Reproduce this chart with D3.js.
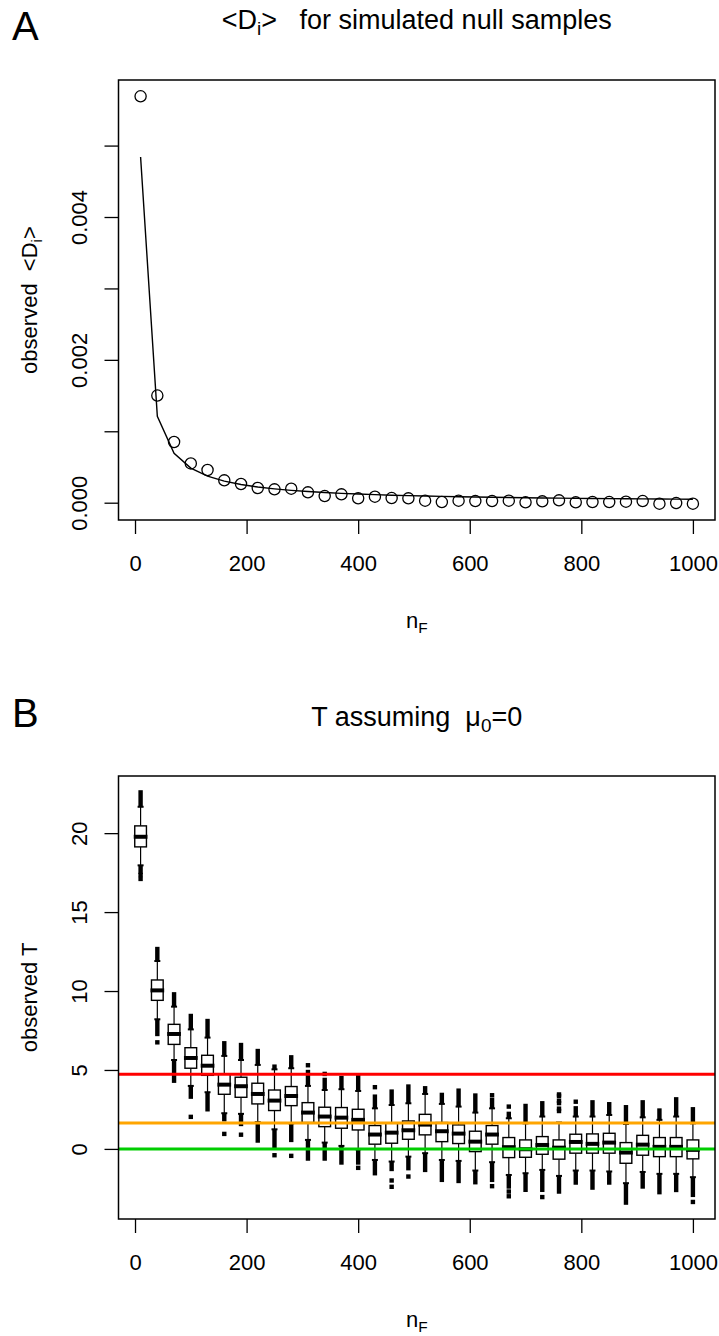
<!DOCTYPE html>
<html>
<head>
<meta charset="utf-8">
<script src="https://cdn.jsdelivr.net/npm/d3@7/dist/d3.min.js"></script>
<style>
body { margin: 0; background: #fff; }
svg { display: block; font-family: "Liberation Sans", Arial, Helvetica, sans-serif; }
</style>
</head>
<body>
<script>
const width = 719, height = 1336;

// n_F values shared by both panels
const nF = [10, 40, 70, 100, 130, 160, 190, 220, 250, 280, 310, 340, 370, 400, 430, 460, 490,
            520, 550, 580, 610, 640, 670, 700, 730, 760, 790, 820, 850, 880, 910, 940, 970, 1000];

// panel A: observed mean D_i (circles) and expected curve (line)
const observedD = [0.00569, 0.00150, 0.00085, 0.00055, 0.000458, 0.000313, 0.000262, 0.000206, 0.000187,
                   0.000196, 0.000145, 0.000093, 0.000117, 0.000061, 0.000084, 0.000065, 0.000061,
                   0.000028, 0.000009, 0.000028, 0.000023, 0.000023, 0.000028, 0.000005, 0.000019,
                   0.000033, 0.000005, 0.000009, 0.000009, 0.000014, 0.000023, -0.000014, -0.000005, -0.000014];
const expectedD = [0.00484, 0.00121, 0.000691, 0.000484, 0.000372, 0.000303, 0.000255, 0.000220, 0.000194,
                   0.000173, 0.000156, 0.000142, 0.000131, 0.000121, 0.000113, 0.000105, 0.0000988,
                   0.0000931, 0.0000880, 0.0000834, 0.0000793, 0.0000756, 0.0000722, 0.0000691, 0.0000663,
                   0.0000637, 0.0000613, 0.0000590, 0.0000569, 0.0000550, 0.0000532, 0.0000515, 0.0000499, 0.0000484];

// panel B: boxplot statistics of T
const whiskLo = [17.96, 8.21, 5.63, 3.99, 3.59, 2.26, 2.22, 1.69, 1.24, 1.62, 0.57, 0.40, 0.19, -0.02, -0.70, -0.80, -0.49,
                 -0.27, -0.70, -0.76, -1.37, -0.84, -1.65, -1.54, -1.33, -1.71, -1.37, -1.37, -1.43, -2.17, -1.46, -1.58, -1.58, -1.79];
const q1 = [19.13, 9.41, 6.62, 5.11, 4.66, 3.46, 3.27, 2.85, 2.43, 2.74, 1.67, 1.41, 1.31, 1.20, 0.30, 0.36, 0.61,
            0.89, 0.46, 0.34, -0.17, 0.30, -0.55, -0.53, -0.34, -0.65, -0.27, -0.27, -0.27, -0.91, -0.40, -0.49, -0.49, -0.63];
const median = [19.77, 10.04, 7.28, 5.76, 5.27, 4.07, 3.97, 3.48, 3.06, 3.35, 2.30, 2.05, 1.98, 1.84, 0.91, 1.03, 1.18,
                1.54, 1.12, 0.97, 0.46, 0.91, 0.11, -0.02, 0.25, 0.08, 0.44, 0.32, 0.40, -0.23, 0.27, 0.13, 0.13, -0.06];
const q3 = [20.46, 10.70, 7.89, 6.41, 5.93, 4.73, 4.54, 4.16, 3.73, 3.95, 2.93, 2.64, 2.62, 2.51, 1.48, 1.62, 1.77,
            2.19, 1.67, 1.52, 1.12, 1.48, 0.72, 0.57, 0.78, 0.57, 0.93, 0.95, 0.99, 0.40, 0.86, 0.72, 0.72, 0.57];
const whiskHi = [21.67, 11.90, 9.01, 7.57, 7.05, 5.89, 5.63, 5.32, 5.04, 5.11, 3.99, 3.73, 3.78, 3.67, 2.57, 2.78, 2.89,
                 3.48, 2.85, 2.68, 2.30, 2.57, 1.94, 1.62, 2.05, 1.67, 2.05, 2.05, 2.15, 1.58, 2.00, 1.84, 2.05, 1.62];
// extent of the dense runs of outliers beyond each whisker
const outHiTop = [22.58, 12.66, 9.79, 8.42, 8.10, 6.69, 6.58, 6.20, 5.21, 5.80, 4.87, 4.37, 4.49, 4.54, 3.31, 3.63, 3.95,
                  3.84, 3.42, 3.69, 3.38, 3.10, 2.22, 2.72, 2.89, 1.67, 2.57, 2.95, 2.83, 2.64, 2.95, 2.43, 3.14, 2.51];
const outLoBottom = [17.55, 7.28, 4.32, 3.31, 2.51, 1.88, 1.58, 0.53, 0.15, 0.57, -0.61, -0.61, -0.86, -0.86, -1.54, -1.27, -1.22,
                     -1.33, -1.96, -2.03, -2.11, -1.96, -2.38, -2.59, -2.59, -2.70, -2.13, -2.45, -2.13, -3.40, -2.38, -2.74, -2.60, -2.91];
// separate outliers: [n_F, T]
const outSingle = [[10, 17.35], [10, 17.1], [40, 6.75], [100, 2.03], [160, 0.95], [190, 0.9], [250, -0.4], [280, -0.44],
                   [310, 5.3], [340, 4.75], [400, -1.2], [430, 3.91], [460, -2.0], [460, -2.4], [490, -1.75],
                   [640, 3.4], [640, -2.36], [670, 2.68], [670, -2.7], [670, -3.0], [730, -3.05],
                   [760, 2.4], [760, 2.55], [760, 2.9], [760, 3.05], [760, 3.35], [760, 3.45], [790, 2.99], [1000, -3.36]];

// reference lines on panel B
const refLines = [{value: 4.73, color: "#ff0000"}, {value: 1.645, color: "#ffa500"}, {value: 0, color: "#00cd00"}];

const xTicks = [0, 200, 400, 600, 800, 1000];
const xLabels = ["0", "200", "400", "600", "800", "1000"];
const yTicksA = [0, 0.001, 0.002, 0.003, 0.004, 0.005];
const yLabelsA = ["0.000", "", "0.002", "", "0.004", ""];
const yTicksB = [0, 5, 10, 15, 20];
const yLabelsB = ["0", "5", "10", "15", "20"];

const plotLeft = 118.5, plotRight = 715;
const panelA = {top: 80, bottom: 520};
const panelB = {top: 776, bottom: 1219};

// R style 4% padding of the data range
const pad = ([lo, hi]) => [lo - (hi - lo) * 0.04, hi + (hi - lo) * 0.04];

const x = d3.scaleLinear()
    .domain(pad(d3.extent(nF)))
    .range([plotLeft, plotRight]);

const yA = d3.scaleLinear()
    .domain(pad(d3.extent(observedD)))
    .range([panelA.bottom, panelA.top]);

const yB = d3.scaleLinear()
    .domain(pad([d3.min(outLoBottom.concat(outSingle.map(d => d[1]))), d3.max(outHiTop)]))
    .range([panelB.bottom, panelB.top]);

const tickLen = 14;
const fontSize = 22;

const xAxis = (g, bottom) => g
    .attr("transform", `translate(0,${bottom})`)
    .call(d3.axisBottom(x).tickValues(xTicks).tickSize(tickLen).tickSizeOuter(0)
        .tickFormat((d, i) => xLabels[i]))
    .call(g => g.select(".domain").remove())
    .call(g => g.selectAll("text").attr("y", 51).attr("dy", null)
        .attr("font-size", fontSize).attr("fill", "#000"))
    .call(g => g.selectAll("line").attr("stroke", "#000").attr("stroke-width", 1.3));

const yAxis = (g, y, ticks, labels) => g
    .attr("transform", `translate(${plotLeft},0)`)
    .call(d3.axisLeft(y).tickValues(ticks).tickSize(tickLen)
        .tickFormat((d, i) => labels[i]))
    .call(g => g.select(".domain").remove())
    .call(g => g.selectAll("text")
        .attr("x", null).attr("dy", null)
        .attr("transform", "translate(-32,0) rotate(-90)")
        .attr("text-anchor", "middle")
        .attr("font-size", fontSize).attr("fill", "#000"))
    .call(g => g.selectAll("line").attr("stroke", "#000").attr("stroke-width", 1.3));

// text with a subscript: parts = [[text, isSub], ...]
function richText(sel, parts, size) {
    parts.forEach(([t, sub], i) => {
        const prevSub = i > 0 && parts[i - 1][1];
        const ts = sel.append("tspan").text(t);
        if (sub) ts.attr("font-size", size * 0.7).attr("dy", size * 0.22);
        else if (prevSub) ts.attr("font-size", size).attr("dy", -size * 0.22);
    });
    return sel;
}

const chart = function () {
    const svg = d3.select("body").append("svg")
        .attr("width", width)
        .attr("height", height)
        .attr("viewBox", [0, 0, width, height]);

    // ---------- panel A ----------
    svg.append("text").attr("x", 12).attr("y", 40).attr("font-size", 40).text("A");
    svg.append("text").attr("x", (plotLeft + plotRight) / 2).attr("y", 29)
        .attr("text-anchor", "middle").attr("font-size", 27)
        .style("white-space", "pre")
        .call(richText, [["<D", false], ["i", true], [">   for simulated null samples", false]], 27);

    svg.append("path")
        .datum(nF.map((n, i) => [n, expectedD[i]]))
        .attr("fill", "none")
        .attr("stroke", "#000")
        .attr("stroke-width", 1.4)
        .attr("d", d3.line().x(d => x(d[0])).y(d => yA(d[1])));

    svg.append("g")
        .selectAll("circle")
        .data(nF.map((n, i) => [n, observedD[i]]))
        .join("circle")
        .attr("cx", d => x(d[0]))
        .attr("cy", d => yA(d[1]))
        .attr("r", 5.6)
        .attr("fill", "none")
        .attr("stroke", "#000")
        .attr("stroke-width", 1.3);

    svg.append("rect")
        .attr("x", plotLeft).attr("y", panelA.top)
        .attr("width", plotRight - plotLeft).attr("height", panelA.bottom - panelA.top)
        .attr("fill", "none").attr("stroke", "#000").attr("stroke-width", 1.5);

    svg.append("g").call(xAxis, panelA.bottom);
    svg.append("g").call(yAxis, yA, yTicksA, yLabelsA);

    svg.append("text").attr("x", (plotLeft + plotRight) / 2).attr("y", 628)
        .attr("text-anchor", "middle").attr("font-size", fontSize)
        .call(richText, [["n", false], ["F", true]], fontSize);
    svg.append("text")
        .attr("transform", `translate(37,${(panelA.top + panelA.bottom) / 2}) rotate(-90)`)
        .attr("text-anchor", "middle").attr("font-size", fontSize)
        .style("white-space", "pre")
        .call(richText, [["observed  <D", false], ["i", true], [">", false]], fontSize);

    // ---------- panel B ----------
    svg.append("text").attr("x", 12).attr("y", 727).attr("font-size", 40).text("B");
    svg.append("text").attr("x", (plotLeft + plotRight) / 2).attr("y", 726)
        .attr("text-anchor", "middle").attr("font-size", 27)
        .style("white-space", "pre")
        .call(richText, [["T assuming  \u03bc", false], ["0", true], ["=0", false]], 27);

    const boxes = nF.map((n, i) => ({
        n, lo: whiskLo[i], q1: q1[i], med: median[i], q3: q3[i], hi: whiskHi[i],
        outHi: outHiTop[i], outLo: outLoBottom[i]
    }));
    const bw = 11.7, sw = 6, ow = 4.4;

    const gb = svg.append("g");
    const box = gb.selectAll("g").data(boxes).join("g")
        .attr("transform", d => `translate(${x(d.n)},0)`);

    // whiskers
    box.append("line").attr("y1", d => yB(d.lo)).attr("y2", d => yB(d.q1))
        .attr("stroke", "#000").attr("stroke-width", 1.2);
    box.append("line").attr("y1", d => yB(d.q3)).attr("y2", d => yB(d.hi))
        .attr("stroke", "#000").attr("stroke-width", 1.2);
    // staples
    box.append("line").attr("x1", -sw / 2).attr("x2", sw / 2)
        .attr("y1", d => yB(d.lo)).attr("y2", d => yB(d.lo))
        .attr("stroke", "#000").attr("stroke-width", 2);
    box.append("line").attr("x1", -sw / 2).attr("x2", sw / 2)
        .attr("y1", d => yB(d.hi)).attr("y2", d => yB(d.hi))
        .attr("stroke", "#000").attr("stroke-width", 2);
    // dense outlier runs
    box.filter(d => d.outHi > d.hi).append("rect")
        .attr("x", -ow / 2).attr("width", ow)
        .attr("y", d => yB(d.outHi) - ow / 2)
        .attr("height", d => yB(d.hi) - yB(d.outHi) + ow / 2);
    box.filter(d => d.outLo < d.lo).append("rect")
        .attr("x", -ow / 2).attr("width", ow)
        .attr("y", d => yB(d.lo))
        .attr("height", d => yB(d.outLo) - yB(d.lo) + ow / 2);
    // box and median
    box.append("rect")
        .attr("x", -bw / 2).attr("width", bw)
        .attr("y", d => yB(d.q3)).attr("height", d => yB(d.q1) - yB(d.q3))
        .attr("fill", "#fff").attr("stroke", "#000").attr("stroke-width", 1.4);
    box.append("line").attr("x1", -bw / 2 - 1).attr("x2", bw / 2 + 1)
        .attr("y1", d => yB(d.med)).attr("y2", d => yB(d.med))
        .attr("stroke", "#000").attr("stroke-width", 4);

    gb.append("g").selectAll("rect").data(outSingle).join("rect")
        .attr("x", d => x(d[0]) - ow / 2).attr("y", d => yB(d[1]) - ow / 2)
        .attr("width", ow).attr("height", ow);

    svg.append("g").selectAll("line").data(refLines).join("line")
        .attr("x1", plotLeft).attr("x2", plotRight)
        .attr("y1", d => yB(d.value)).attr("y2", d => yB(d.value))
        .attr("stroke", d => d.color).attr("stroke-width", 3);

    svg.append("rect")
        .attr("x", plotLeft).attr("y", panelB.top)
        .attr("width", plotRight - plotLeft).attr("height", panelB.bottom - panelB.top)
        .attr("fill", "none").attr("stroke", "#000").attr("stroke-width", 1.5);

    svg.append("g").call(xAxis, panelB.bottom);
    svg.append("g").call(yAxis, yB, yTicksB, yLabelsB);

    svg.append("text").attr("x", (plotLeft + plotRight) / 2).attr("y", 1327)
        .attr("text-anchor", "middle").attr("font-size", fontSize)
        .call(richText, [["n", false], ["F", true]], fontSize);
    svg.append("text")
        .attr("transform", `translate(37,${(panelB.top + panelB.bottom) / 2}) rotate(-90)`)
        .attr("text-anchor", "middle").attr("font-size", fontSize)
        .text("observed T");

    return svg.node();
}

chart();
</script>
</body>
</html>
